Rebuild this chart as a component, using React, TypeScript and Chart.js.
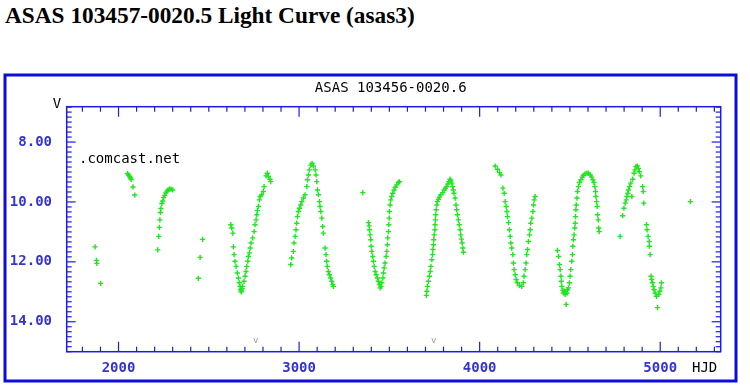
import React, { useEffect, useRef } from "react";
import { Chart, registerables } from "chart.js";

Chart.register(...registerables);

const pageTitle = "ASAS 103457-0020.5 Light Curve (asas3)";
const chartTitle = "ASAS 103456-0020.6";
const yAxisLabel = "V";
const xAxisLabel = "HJD";
const hostLabel = ".comcast.net";

const xTickValues = [2000, 3000, 4000, 5000];
const yTickValues = [8, 10, 12, 14];
const seasonMarks = [2760, 3745];

// [HJD - 2450000, V magnitude]
const season1 = [[1870, 11.5], [1878, 11.95], [1880, 12.05], [1901, 12.72]];
const season2 = [[2050, 9.05], [2055, 9.1], [2062, 9.15], [2066, 9.2], [2070, 9.25], [2080, 9.5], [2090, 9.77]];
const season3 = [[2217, 11.6], [2223, 11.15], [2226, 10.85], [2229, 10.6], [2232, 10.35], [2235, 10.22], [2240, 10.05], [2245, 9.97], [2250, 9.85], [2256, 9.78], [2262, 9.7], [2268, 9.64], [2275, 9.6], [2283, 9.57], [2291, 9.57], [2300, 9.6]];
const season4 = [[2442, 12.55], [2452, 11.85], [2466, 11.25]];
const season5 = [[2622, 10.76], [2627, 10.87], [2633, 11.04], [2636, 11.5], [2640, 11.76], [2645, 11.98], [2651, 12.15], [2658, 12.37], [2664, 12.54], [2669, 12.7], [2673, 12.82], [2677, 12.93], [2679, 13.0], [2682, 12.98], [2684, 12.9], [2687, 12.82], [2695, 12.65], [2701, 12.48], [2706, 12.32], [2710, 12.15], [2716, 11.98], [2719, 11.82], [2725, 11.7], [2729, 11.54], [2734, 11.37], [2743, 11.2], [2751, 10.99], [2756, 10.76], [2762, 10.6], [2766, 10.43], [2769, 10.29], [2775, 10.15], [2780, 9.93], [2784, 9.82], [2793, 9.76], [2802, 9.65], [2806, 9.49], [2817, 9.13], [2824, 9.04], [2830, 9.15], [2839, 9.24], [2843, 9.32]];
const season6 = [[2954, 12.09], [2959, 11.87], [2968, 11.65], [2972, 11.37], [2978, 11.15], [2983, 10.93], [2987, 10.71], [2991, 10.49], [2996, 10.32], [3002, 10.21], [3009, 10.1], [3015, 9.99], [3024, 9.87], [3033, 9.76], [3043, 9.49], [3047, 9.26], [3052, 9.1], [3057, 8.93], [3065, 8.77], [3072, 8.71], [3079, 8.8], [3089, 8.93], [3094, 9.1], [3098, 9.32], [3102, 9.6], [3107, 9.76], [3113, 9.99], [3116, 10.15], [3120, 10.32], [3126, 10.54], [3131, 10.82], [3134, 11.04], [3144, 11.54], [3149, 11.76], [3153, 11.98], [3156, 12.15], [3162, 12.32], [3168, 12.43], [3175, 12.54], [3181, 12.65], [3187, 12.76], [3190, 12.82]];
const season7 = [[3353, 9.69]];
const season8 = [[3384, 10.69], [3388, 10.8], [3390, 10.93], [3393, 11.1], [3397, 11.26], [3399, 11.48], [3403, 11.65], [3408, 11.82], [3412, 11.98], [3416, 12.15], [3421, 12.32], [3427, 12.43], [3434, 12.54], [3439, 12.65], [3445, 12.76], [3449, 12.87], [3454, 12.82], [3458, 12.7], [3464, 12.54], [3467, 12.37], [3471, 12.2], [3476, 12.04], [3482, 11.82], [3486, 11.65], [3489, 11.43], [3491, 11.2], [3495, 10.99], [3497, 10.76], [3499, 10.54], [3500, 10.32], [3504, 10.1], [3508, 9.93], [3513, 9.82], [3519, 9.71], [3526, 9.6], [3532, 9.51], [3541, 9.43], [3550, 9.35], [3556, 9.32]];
const season9 = [[3705, 13.12], [3708, 12.98], [3711, 12.82], [3716, 12.65], [3722, 12.48], [3726, 12.32], [3730, 12.15], [3735, 11.93], [3739, 11.76], [3741, 11.59], [3744, 11.43], [3746, 11.26], [3748, 11.1], [3752, 10.93], [3753, 10.76], [3755, 10.6], [3757, 10.43], [3759, 10.26], [3763, 10.1], [3766, 9.99], [3772, 9.91], [3777, 9.84], [3785, 9.76], [3796, 9.69], [3803, 9.6], [3811, 9.54], [3818, 9.49], [3824, 9.4], [3829, 9.32], [3836, 9.24], [3840, 9.29], [3846, 9.37], [3851, 9.49], [3854, 9.6], [3858, 9.71], [3864, 9.87], [3869, 10.1], [3873, 10.26], [3877, 10.43], [3882, 10.6], [3887, 10.76], [3892, 10.93], [3895, 11.1], [3899, 11.24], [3903, 11.37], [3907, 11.54], [3910, 11.68]];
const season10 = [[4086, 8.8], [4099, 8.91], [4110, 9.02], [4118, 9.1], [4129, 9.54], [4136, 9.71], [4141, 9.99], [4147, 10.15], [4151, 10.32], [4154, 10.49], [4160, 10.69], [4165, 10.93], [4169, 11.15], [4173, 11.37], [4178, 11.54], [4184, 11.76], [4187, 12.04], [4191, 12.26], [4197, 12.43], [4202, 12.59], [4209, 12.7], [4220, 12.79], [4233, 12.82], [4242, 12.7], [4246, 12.48], [4252, 12.26], [4257, 12.04], [4261, 11.76], [4265, 11.59], [4270, 11.32], [4276, 11.1], [4280, 10.93], [4283, 10.71], [4289, 10.54], [4295, 10.32], [4298, 10.1], [4302, 9.93], [4307, 9.82]];
const season11 = [[4431, 11.62], [4437, 11.82], [4442, 12.09], [4446, 12.26], [4450, 12.48], [4452, 12.65], [4455, 12.82], [4461, 12.95], [4464, 13.04], [4468, 12.98], [4474, 13.09], [4479, 13.42], [4483, 13.04], [4486, 12.93], [4492, 12.87], [4497, 12.7], [4501, 12.48], [4505, 12.26], [4510, 11.98], [4514, 11.76], [4516, 11.48], [4519, 11.26], [4523, 11.1], [4527, 10.87], [4529, 10.71], [4531, 10.49], [4533, 10.26], [4535, 10.1], [4539, 9.87], [4542, 9.65], [4547, 9.49], [4553, 9.35], [4561, 9.26], [4568, 9.17], [4575, 9.11], [4584, 9.06], [4594, 9.04], [4603, 9.04], [4612, 9.1], [4621, 9.17], [4627, 9.26], [4633, 9.35], [4638, 9.49], [4642, 9.65], [4644, 9.82], [4648, 9.99], [4651, 10.15], [4653, 10.43], [4657, 10.6], [4659, 10.87], [4662, 10.99]];
const season12 = [[4778, 11.15], [4792, 10.46], [4799, 10.21], [4806, 10.04], [4812, 9.93], [4815, 9.82], [4821, 9.71], [4824, 9.6], [4830, 9.49], [4837, 9.37], [4843, 9.82], [4848, 9.24], [4855, 9.04], [4860, 8.93], [4866, 8.82], [4873, 8.8], [4879, 8.88], [4884, 8.99], [4892, 9.13], [4903, 9.49], [4906, 9.65], [4909, 10.04], [4924, 10.76], [4927, 10.93], [4933, 11.15], [4939, 11.32], [4940, 11.48], [4944, 11.76], [4949, 12.48], [4953, 12.59], [4957, 12.7], [4961, 12.82], [4966, 12.93], [4972, 13.04], [4979, 13.15], [4985, 13.53], [4992, 13.09], [4998, 12.98], [5004, 12.87], [5007, 12.7]];
const season13 = [[5167, 9.99]];

const seasons = [season1, season2, season3, season4, season5, season6, season7, season8, season9, season10, season11, season12, season13];

const AXIS_BLUE = "#1c1ce6";
const LABEL_BLUE = "#3434d0";
const FRAME_BLUE = "#0c0cdc";
const POINT_GREEN = "#1fe61f";
const MONO = '"DejaVu Sans Mono", monospace';

const X_MIN = 1713;
const X_MAX = 5335;
const Y_MIN = 6.82;
const Y_MAX = 15.0;

const decorPlugin = {
  id: "decor",
  afterDraw(chart: any) {
    const { ctx, chartArea: a, scales } = chart;
    const xs = scales.x;
    const ys = scales.y;
    ctx.save();

    // outer frame
    ctx.strokeStyle = FRAME_BLUE;
    ctx.lineWidth = 3;
    ctx.strokeRect(5, 75, 731, 306);

    // plot frame
    ctx.strokeStyle = AXIS_BLUE;
    ctx.lineWidth = 1.5;
    ctx.strokeRect(a.left, a.top, a.right - a.left, a.bottom - a.top);

    const seg = (x1: number, y1: number, x2: number, y2: number) => {
      ctx.beginPath();
      ctx.moveTo(x1, y1);
      ctx.lineTo(x2, y2);
      ctx.stroke();
    };

    // inward x ticks (bottom and top)
    ctx.lineWidth = 1.2;
    for (let v = 1800; v <= X_MAX; v += 100) {
      const px = xs.getPixelForValue(v);
      const len = v % 1000 === 0 ? 10 : 5;
      seg(px, a.bottom, px, a.bottom - len);
      seg(px, a.top, px, a.top + len);
    }
    // inward y ticks (left and right)
    for (let i = -8; i <= 45; i++) {
      const v = 8 + i / 6;
      if (v < Y_MIN || v > Y_MAX) continue;
      const py = ys.getPixelForValue(v);
      const len = i % 12 === 0 ? 9 : 5;
      seg(a.left, py, a.left + len, py);
      seg(a.right, py, a.right - len, py);
    }

    // texts
    ctx.fillStyle = "#000";
    ctx.font = `14px ${MONO}`;
    ctx.textBaseline = "middle";
    ctx.textAlign = "center";
    ctx.fillText(chartTitle, (a.left + a.right) / 2 - 3, 88);
    ctx.fillText(yAxisLabel, 57, 104);
    ctx.textAlign = "left";
    ctx.fillText(xAxisLabel, 692, 368);
    ctx.fillText(hostLabel, 79, 159);

    // season markers
    ctx.fillStyle = "#9a9a9a";
    ctx.font = `9px ${MONO}`;
    ctx.textAlign = "center";
    for (const m of seasonMarks) {
      ctx.fillText("v", xs.getPixelForValue(m), ys.getPixelForValue(14.62));
    }
    ctx.restore();
  },
};

export default function App() {
  const canvasRef = useRef<HTMLCanvasElement | null>(null);

  useEffect(() => {
    const canvas = canvasRef.current;
    if (!canvas) return;
    const points = seasons.flat().map(([x, y]) => ({ x, y }));
    const chart = new Chart(canvas, {
      type: "scatter",
      data: {
        datasets: [
          {
            data: points,
            pointStyle: "cross",
            radius: 2.6,
            borderWidth: 1.4,
            borderColor: POINT_GREEN,
            backgroundColor: POINT_GREEN,
            showLine: false,
          },
        ],
      },
      options: {
        responsive: false,
        animation: false,
        devicePixelRatio: 1,
        layout: { padding: { left: 0, right: 29.3, top: 106.7, bottom: 8.3 } },
        plugins: {
          legend: { display: false },
          tooltip: { enabled: false },
          title: { display: false },
        },
        scales: {
          x: {
            type: "linear",
            position: "bottom",
            min: X_MIN,
            max: X_MAX,
            grid: { display: false },
            border: { display: false },
            afterBuildTicks: (scale: any) => {
              scale.ticks = xTickValues.map((value) => ({ value }));
            },
            afterFit: (scale: any) => {
              scale.height = 30;
            },
            ticks: {
              color: LABEL_BLUE,
              font: { family: MONO, size: 14, weight: "bold" },
              padding: 0,
              maxRotation: 0,
              callback: (v: any) => String(v),
            },
          },
          y: {
            type: "linear",
            position: "left",
            reverse: true,
            min: Y_MIN,
            max: Y_MAX,
            grid: { display: false },
            border: { display: false },
            afterBuildTicks: (scale: any) => {
              scale.ticks = yTickValues.map((value) => ({ value }));
            },
            afterFit: (scale: any) => {
              scale.width = 66.7;
            },
            ticks: {
              color: LABEL_BLUE,
              font: { family: MONO, size: 14, weight: "bold" },
              padding: 6.7,
              callback: (v: any) => Number(v).toFixed(2),
            },
          },
        },
      },
      plugins: [decorPlugin],
    } as any);
    return () => chart.destroy();
  }, []);

  return (
    <div style={{ position: "absolute", left: 0, top: 0, width: 750, height: 390, background: "#fff" }}>
      <div
        style={{
          position: "absolute",
          left: 5,
          top: 4,
          margin: 0,
          font: 'bold 23.3px "Liberation Serif", serif',
          lineHeight: "23px",
          whiteSpace: "nowrap",
          color: "#000",
        }}
      >
        {pageTitle}
      </div>
      <canvas
        ref={canvasRef}
        width={750}
        height={390}
        style={{ position: "absolute", left: 0, top: 0, width: 750, height: 390, display: "block" }}
      />
    </div>
  );
}
